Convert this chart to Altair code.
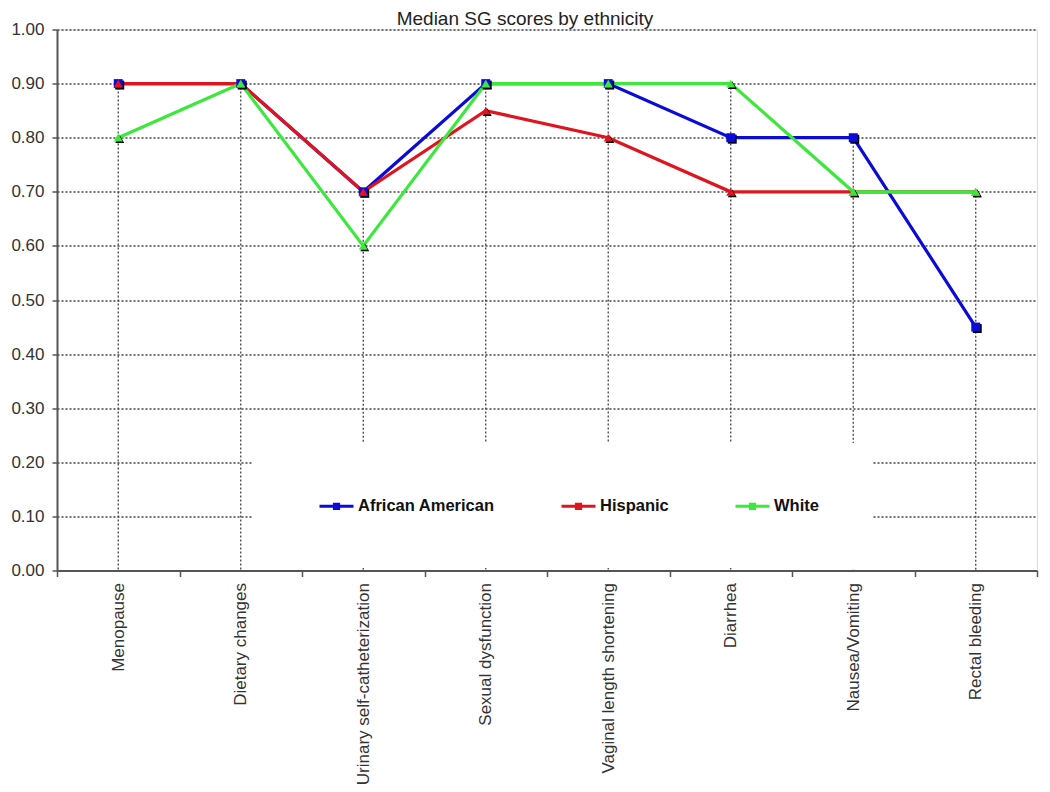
import altair as alt
import pandas as pd

categories = [
    "Menopause",
    "Dietary changes",
    "Urinary self-catheterization",
    "Sexual dysfunction",
    "Vaginal length shortening",
    "Diarrhea",
    "Nausea/Vomiting",
    "Rectal bleeding",
]
series_names = ["African American", "Hispanic", "White"]
african_american = [0.90, 0.90, 0.70, 0.90, 0.90, 0.80, 0.80, 0.45]
hispanic = [0.90, 0.90, 0.70, 0.85, 0.80, 0.70, 0.70, 0.70]
white = [0.80, 0.90, 0.60, 0.90, 0.90, 0.90, 0.70, 0.70]
series_colors = ["#0B0BD8", "#E0141E", "#3CE83C"]
series_shapes = ["square", "triangle-up", "triangle-up"]
y_ticks = [0.0, 0.1, 0.2, 0.3, 0.4, 0.5, 0.6, 0.7, 0.8, 0.9, 1.0]

rows = []
for name, vals in zip(series_names, [african_american, hispanic, white]):
    for c, v in zip(categories, vals):
        rows.append({"category": c, "series": name, "marker": name, "value": v})
df = pd.DataFrame(rows)

FONT = "Liberation Sans"

x_scale = alt.Scale(type="band", domain=categories, paddingInner=0, paddingOuter=0)
y_scale = alt.Scale(domain=[0, 1], nice=False)

x_axis = alt.Axis(
    title=None, labelAngle=270, labelAlign="right", labelBaseline="middle",
    labelFontSize=17, labelFont=FONT, labelColor="#333", labelPadding=6,
    tickBand="extent", ticks=True, tickSize=6, tickColor="#555", tickWidth=1.5,
    domainColor="#555", domainWidth=2, grid=False, labelLimit=400, zindex=2,
)
y_axis = alt.Axis(
    title=None, values=y_ticks, format=".2f", labelFontSize=17, labelFont=FONT,
    labelColor="#333", labelPadding=8, tickSize=5, tickColor="#555", tickWidth=1.5,
    domainColor="#555", domainWidth=2, grid=True, gridColor="#444",
    gridDash=[2, 2], gridWidth=1.3,
)

base = alt.Chart(df)

color_legend = alt.Legend(
    orient="none", legendX=195, legendY=413.5, direction="horizontal", title=None,
    fillColor="white", padding=53, columnPadding=52, zindex=1,
    symbolType="M-2,0H2M-0.25,-0.25H0.25V0.25H-0.25Z", symbolSize=289,
    symbolOffset=21.5, symbolStrokeWidth=3, labelFont=FONT, labelFontSize=16.5,
    labelFontWeight="bold", labelColor="#111", labelOffset=11.5,
)
color_scale = alt.Scale(domain=series_names, range=series_colors)
shape_scale = alt.Scale(domain=series_names, range=series_shapes)

drops = base.transform_aggregate(
    maxv="max(value)", groupby=["category"]
).mark_rule(strokeDash=[2, 2], color="#444", strokeWidth=1.3).encode(
    x=alt.X("category:N", sort=categories, scale=x_scale, axis=x_axis),
    y=alt.Y("maxv:Q", scale=y_scale, axis=y_axis),
    y2=alt.datum(0),
)

lines = base.mark_line(strokeWidth=3.2).encode(
    x=alt.X("category:N", sort=categories, scale=x_scale),
    y=alt.Y("value:Q", scale=y_scale),
    color=alt.Color("series:N", scale=color_scale, legend=color_legend),
    order=alt.Order("series:N"),
)

shadows = base.mark_point(filled=True, opacity=1, color="black", xOffset=1.5, yOffset=1.5, size=80).encode(
    x=alt.X("category:N", sort=categories, scale=x_scale),
    y=alt.Y("value:Q", scale=y_scale),
    shape=alt.Shape("marker:N", scale=shape_scale, legend=None),
)

points = base.mark_point(filled=True, opacity=1, size=80).encode(
    x=alt.X("category:N", sort=categories, scale=x_scale),
    y=alt.Y("value:Q", scale=y_scale),
    color=alt.Color("marker:N", scale=color_scale, legend=None),
    shape=alt.Shape("marker:N", scale=shape_scale, legend=None),
)

markers = alt.layer(shadows, points)

chart = alt.layer(drops, lines, markers).resolve_scale(
    color="independent", shape="independent"
).resolve_legend(color="independent", shape="independent").properties(
    width=980,
    height=541,
    autosize=alt.AutoSizeParams(type="none"),
    padding={"left": 49, "top": 21.5, "right": 5, "bottom": 220},
    title=alt.TitleParams(
        "Median SG scores by ethnicity", fontSize=19, font=FONT, fontWeight="normal",
        color="#222", anchor="middle", frame="group", baseline="alphabetic",
        offset=1, dx=-22, dy=24.5,
    ),
).configure_view(stroke="#777", strokeWidth=1.5).configure(background="white")

chart.save("out.html", embed_options={"renderer": "svg", "actions": False})
